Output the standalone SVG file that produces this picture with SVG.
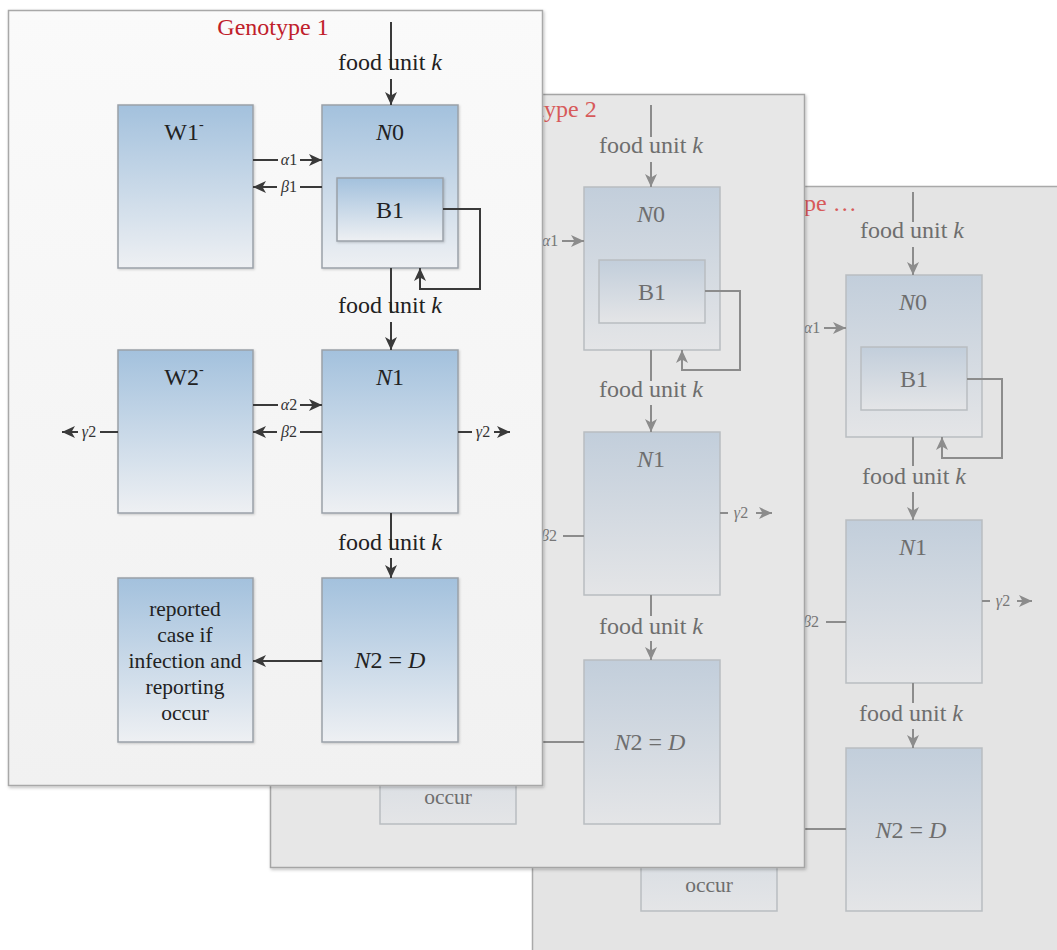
<svg xmlns="http://www.w3.org/2000/svg" width="1057" height="950" viewBox="0 0 1057 950">
<style>
  text { font-family: "Liberation Serif", "Times New Roman", serif; }
  .t1 { fill: #222; font-size: 24px; text-anchor: middle; }
  .t2 { fill: #6e6e6e; font-size: 24px; text-anchor: middle; }
  .r1 { fill: #222; font-size: 21.5px; text-anchor: middle; }
  .r2 { fill: #6e6e6e; font-size: 21.5px; text-anchor: middle; }
  .g1 { fill: #333; font-size: 16px; text-anchor: middle; font-style: italic; }
  .g2 { fill: #777; font-size: 16px; text-anchor: middle; font-style: italic; }
  .it { font-style: italic; }
  .up { font-style: normal; }
  .c1 { stroke: #3a3a3a; stroke-width: 2; fill: none; }
  .c2 { stroke: #8c8c8c; stroke-width: 2; fill: none; }
  .a1 { marker-end: url(#ad); }
  .a2 { marker-end: url(#ag); }
  .b1 { fill: url(#gb1); stroke: #9aa1a8; stroke-width: 1.5; filter: url(#sh); }
  .b2 { fill: url(#gb2); stroke: #b9bdc1; stroke-width: 1.5; }
  .title1 { fill: #c0202a; font-size: 24px; text-anchor: middle; }
  .title2 { fill: #d75a5a; font-size: 24px; text-anchor: middle; }
</style>
<defs>
  <linearGradient id="gb1" x1="0" y1="0" x2="0" y2="1">
    <stop offset="0" stop-color="#a3c1dd"/>
    <stop offset="1" stop-color="#eef0f3"/>
  </linearGradient>
  <linearGradient id="gb2" x1="0" y1="0" x2="0" y2="1">
    <stop offset="0" stop-color="#c2cedb"/>
    <stop offset="1" stop-color="#e4e5e7"/>
  </linearGradient>
  <linearGradient id="gp1" x1="0" y1="0" x2="0" y2="1">
    <stop offset="0" stop-color="#fafafa"/>
    <stop offset="1" stop-color="#f1f1f1"/>
  </linearGradient>
  <filter id="sh" x="-10%" y="-10%" width="130%" height="130%">
    <feDropShadow dx="1" dy="1" stdDeviation="1" flood-color="#000" flood-opacity="0.18"/>
  </filter>
  <filter id="psh" x="-5%" y="-5%" width="110%" height="110%">
    <feDropShadow dx="1" dy="1.5" stdDeviation="1.5" flood-color="#000" flood-opacity="0.25"/>
  </filter>
  <marker id="ad" markerUnits="userSpaceOnUse" markerWidth="14" markerHeight="12" refX="13" refY="6" orient="auto">
    <path d="M0,0 L13,6 L0,12 L3.5,6 z" fill="#3a3a3a"/>
  </marker>
  <marker id="ag" markerUnits="userSpaceOnUse" markerWidth="14" markerHeight="12" refX="13" refY="6" orient="auto">
    <path d="M0,0 L13,6 L0,12 L3.5,6 z" fill="#8c8c8c"/>
  </marker>
</defs>

<rect x="0" y="0" width="1057" height="950" fill="#ffffff"/>

<!-- ===== Panel 3 (back) ===== -->
<g id="panel3">
  <rect x="532.5" y="186.5" width="540" height="780" fill="#e4e4e4" stroke="#a9a9a9" stroke-width="1.5"/>
  <text class="title2" x="795" y="211">Genotype …</text>
  <g id="p3-N0"><rect class="b2" x="846" y="275" width="136" height="162"/><text class="t2" x="913" y="310"><tspan class="it">N</tspan>0</text></g>
  <g id="p3-B1"><rect class="b2" x="861" y="347" width="106" height="63"/><text class="t2" x="914" y="387">B1</text></g>
  <g id="p3-N1"><rect class="b2" x="846" y="520" width="136" height="163"/><text class="t2" x="913" y="555"><tspan class="it">N</tspan>1</text></g>
  <g id="p3-N2"><rect class="b2" x="846" y="748" width="136" height="163"/><text class="t2" x="911" y="838"><tspan class="it">N</tspan>2 = <tspan class="it">D</tspan></text></g>
  <g id="p3-rep"><rect class="b2" x="641" y="748" width="136" height="163"/><text class="r2" x="709" y="892">occur</text></g>
  <g id="p3-connectors">
    <line class="c2" x1="913" y1="192" x2="913" y2="222"/>
    <line class="c2 a2" x1="913" y1="247" x2="913" y2="275"/>
    <text class="t2" x="912" y="238">food unit <tspan class="it">k</tspan></text>
    <line class="c2" x1="913" y1="437" x2="913" y2="466"/>
    <line class="c2 a2" x1="913" y1="492" x2="913" y2="520"/>
    <text class="t2" x="914" y="484">food unit <tspan class="it">k</tspan></text>
    <line class="c2" x1="913" y1="683" x2="913" y2="703"/>
    <line class="c2 a2" x1="913" y1="729" x2="913" y2="748"/>
    <text class="t2" x="911" y="721">food unit <tspan class="it">k</tspan></text>
    <polyline class="c2 a2" points="967,379 1002,379 1002,458 942,458 942,437"/>
    <text class="g2" x="812" y="333">α<tspan class="up">1</tspan></text>
    <line class="c2 a2" x1="824" y1="328" x2="846" y2="328"/>
    <text class="g2" x="811" y="627">β<tspan class="up">2</tspan></text>
    <line class="c2" x1="826" y1="622" x2="846" y2="622"/>
    <line class="c2" x1="982" y1="601" x2="990" y2="601"/>
    <text class="g2" x="1003" y="606">γ<tspan class="up">2</tspan></text>
    <line class="c2 a2" x1="1017" y1="601" x2="1032" y2="601"/>
    <line class="c2" x1="777" y1="829" x2="846" y2="829"/>
  </g>
</g>

<!-- ===== Panel 2 (middle) ===== -->
<g id="panel2">
  <rect x="270.5" y="94.5" width="534" height="773" fill="#e7e7e7" stroke="#a5a5a5" stroke-width="1.5" filter="url(#psh)"/>
  <text class="title2" x="541" y="117">Genotype 2</text>
  <g id="p2-N0"><rect class="b2" x="584" y="187" width="136" height="163"/><text class="t2" x="651" y="222"><tspan class="it">N</tspan>0</text></g>
  <g id="p2-B1"><rect class="b2" x="599" y="260" width="106" height="63"/><text class="t2" x="652" y="300">B1</text></g>
  <g id="p2-N1"><rect class="b2" x="584" y="432" width="136" height="163"/><text class="t2" x="651" y="467"><tspan class="it">N</tspan>1</text></g>
  <g id="p2-N2"><rect class="b2" x="584" y="660" width="136" height="164"/><text class="t2" x="650" y="750"><tspan class="it">N</tspan>2 = <tspan class="it">D</tspan></text></g>
  <g id="p2-rep"><rect class="b2" x="380" y="660" width="136" height="164"/><text class="r2" x="448" y="804">occur</text></g>
  <g id="p2-connectors">
    <line class="c2" x1="651" y1="105" x2="651" y2="137"/>
    <line class="c2 a2" x1="651" y1="162" x2="651" y2="187"/>
    <text class="t2" x="651" y="153">food unit <tspan class="it">k</tspan></text>
    <line class="c2" x1="651" y1="350" x2="651" y2="381"/>
    <line class="c2 a2" x1="651" y1="405" x2="651" y2="432"/>
    <text class="t2" x="651" y="397">food unit <tspan class="it">k</tspan></text>
    <line class="c2" x1="651" y1="595" x2="651" y2="616"/>
    <line class="c2 a2" x1="651" y1="641" x2="651" y2="660"/>
    <text class="t2" x="651" y="634">food unit <tspan class="it">k</tspan></text>
    <polyline class="c2 a2" points="705,291 740,291 740,370 682,370 682,350"/>
    <text class="g2" x="550" y="246">α<tspan class="up">1</tspan></text>
    <line class="c2 a2" x1="562" y1="241" x2="584" y2="241"/>
    <text class="g2" x="549" y="541">β<tspan class="up">2</tspan></text>
    <line class="c2" x1="563" y1="536" x2="584" y2="536"/>
    <line class="c2" x1="720" y1="513" x2="728" y2="513"/>
    <text class="g2" x="741" y="518">γ<tspan class="up">2</tspan></text>
    <line class="c2 a2" x1="756" y1="513" x2="772" y2="513"/>
    <line class="c2 a2" x1="584" y1="742" x2="516" y2="742"/>
  </g>
</g>

<!-- ===== Panel 1 (front) ===== -->
<g id="panel1">
  <rect x="8.5" y="10.5" width="534" height="775" fill="url(#gp1)" stroke="#a8a8a8" stroke-width="1.5" filter="url(#psh)"/>
  <text class="title1" x="273" y="35">Genotype 1</text>
  <g id="W1"><rect class="b1" x="118" y="105" width="135" height="163"/><text class="t1" x="184" y="140">W1<tspan font-size="14" dy="-11">-</tspan></text></g>
  <g id="N0"><rect class="b1" x="322" y="105" width="136" height="163"/><text class="t1" x="390" y="140"><tspan class="it">N</tspan>0</text></g>
  <g id="B1"><rect class="b1" x="337" y="178" width="106" height="63"/><text class="t1" x="390" y="218">B1</text></g>
  <g id="W2"><rect class="b1" x="118" y="350" width="135" height="163"/><text class="t1" x="184" y="385">W2<tspan font-size="14" dy="-11">-</tspan></text></g>
  <g id="N1"><rect class="b1" x="322" y="350" width="136" height="163"/><text class="t1" x="390" y="385"><tspan class="it">N</tspan>1</text></g>
  <g id="reported"><rect class="b1" x="118" y="578" width="135" height="164"/>
    <text class="r1" x="185" y="616">reported</text>
    <text class="r1" x="185" y="642">case if</text>
    <text class="r1" x="185" y="668">infection and</text>
    <text class="r1" x="185" y="694">reporting</text>
    <text class="r1" x="185" y="720">occur</text>
  </g>
  <g id="N2"><rect class="b1" x="322" y="578" width="136" height="164"/><text class="t1" x="390" y="668"><tspan class="it">N</tspan>2 = <tspan class="it">D</tspan></text></g>
  <g id="p1-connectors">
    <line class="c1" x1="391" y1="22" x2="391" y2="70"/>
    <line class="c1 a1" x1="391" y1="79" x2="391" y2="105"/>
    <text class="t1" x="390" y="70">food unit <tspan class="it">k</tspan></text>
    <line class="c1" x1="391" y1="268" x2="391" y2="313"/>
    <line class="c1 a1" x1="391" y1="322" x2="391" y2="350"/>
    <text class="t1" x="390" y="313">food unit <tspan class="it">k</tspan></text>
    <line class="c1" x1="391" y1="513" x2="391" y2="550"/>
    <line class="c1 a1" x1="391" y1="558" x2="391" y2="578"/>
    <text class="t1" x="390" y="550">food unit <tspan class="it">k</tspan></text>
    <polyline class="c1 a1" points="443,209 480,209 480,289 420,289 420,268"/>
    <line class="c1" x1="253" y1="160" x2="278" y2="160"/>
    <text class="g1" x="289" y="165">α<tspan class="up">1</tspan></text>
    <line class="c1 a1" x1="300" y1="160" x2="322" y2="160"/>
    <line class="c1 a1" x1="277" y1="187" x2="253" y2="187"/>
    <text class="g1" x="289" y="192">β<tspan class="up">1</tspan></text>
    <line class="c1" x1="300" y1="187" x2="322" y2="187"/>
    <line class="c1" x1="253" y1="405" x2="278" y2="405"/>
    <text class="g1" x="289" y="410">α<tspan class="up">2</tspan></text>
    <line class="c1 a1" x1="300" y1="405" x2="322" y2="405"/>
    <line class="c1 a1" x1="277" y1="432" x2="253" y2="432"/>
    <text class="g1" x="289" y="437">β<tspan class="up">2</tspan></text>
    <line class="c1" x1="300" y1="432" x2="322" y2="432"/>
    <line class="c1" x1="118" y1="432" x2="100" y2="432"/>
    <text class="g1" x="89" y="437">γ<tspan class="up">2</tspan></text>
    <line class="c1 a1" x1="78" y1="432" x2="62" y2="432"/>
    <line class="c1" x1="458" y1="432" x2="472" y2="432"/>
    <text class="g1" x="483" y="437">γ<tspan class="up">2</tspan></text>
    <line class="c1 a1" x1="494" y1="432" x2="510" y2="432"/>
    <line class="c1 a1" x1="322" y1="661" x2="253" y2="661"/>
  </g>
</g>
</svg>
